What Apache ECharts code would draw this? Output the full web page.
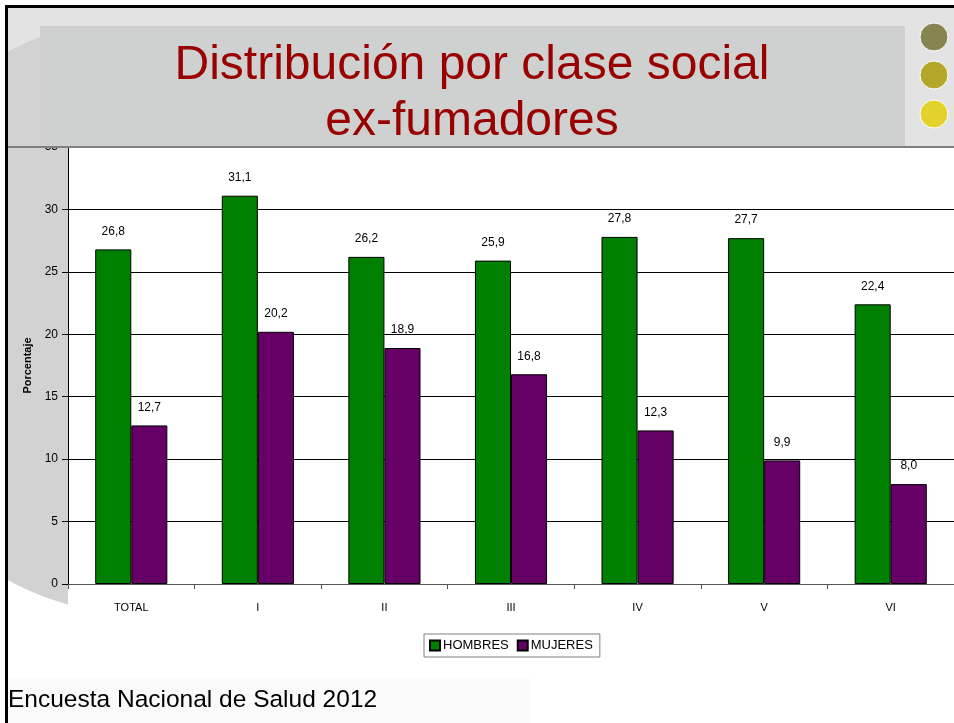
<!DOCTYPE html>
<html>
<head>
<meta charset="utf-8">
<script src="https://cdn.jsdelivr.net/npm/echarts@6/dist/echarts.min.js"></script>
<style>
html,body{margin:0;padding:0;background:#fff;}
#chart{width:954px;height:723px;}
</style>
</head>
<body>
<div id="chart"></div>
<script>
const categories = ['TOTAL', 'I', 'II', 'III', 'IV', 'V', 'VI'];
const hombres = [26.8, 31.1, 26.2, 25.9, 27.8, 27.7, 22.4];
const mujeres = [12.7, 20.2, 18.9, 16.8, 12.3, 9.9, 8.0];
const yTicks = { min: 0, max: 35, interval: 5 };
const titleLines = ['Distribución por clase social', 'ex-fumadores'];
const footerText = 'Encuesta Nacional de Salud 2012';

const SANS = '"Liberation Sans", Arial, sans-serif';

// left decorative strip (part of a large watermark circle, clipped to x<=68)
function leftStrip() {
  const cx = 150, cy = 316, r = 300, x0 = 8, x1 = 68;
  const pts = [];
  const aTop1 = Math.acos((x1 - cx) / r), aTop0 = Math.acos((x0 - cx) / r);
  const n = 30;
  for (let i = 0; i <= n; i++) {
    const a = aTop1 + (aTop0 - aTop1) * i / n;
    pts.push([cx + r * Math.cos(a), cy - r * Math.sin(a)]);
  }
  for (let i = 0; i <= n; i++) {
    const a = aTop0 + (aTop1 - aTop0) * i / n;
    pts.push([cx + r * Math.cos(a), cy + r * Math.sin(a)]);
  }
  return pts;
}

const chart = echarts.init(document.getElementById('chart'), null, { renderer: 'canvas' });
const valFmt = p => p.value.toFixed(1).replace('.', ',');

chart.setOption({
  animation: false,
  backgroundColor: '#ffffff',
  grid: { left: 68, right: -3, top: 147, bottom: 139, containLabel: false },
  legend: {
    data: ['HOMBRES', 'MUJERES'],
    left: 424, top: 634,
    orient: 'horizontal',
    padding: [5, 7, 5, 5],
    itemWidth: 10, itemHeight: 10, itemGap: 8,
    borderColor: '#808080', borderWidth: 1,
    icon: 'rect',
    textStyle: { fontFamily: SANS, fontSize: 13, color: '#000', padding: [0, 0, 0, -2] }
  },
  xAxis: {
    type: 'category',
    data: categories,
    axisLine: { lineStyle: { color: '#555', width: 1 } },
    axisTick: { show: true, length: 5, lineStyle: { color: '#555' } },
    axisLabel: { fontFamily: SANS, fontSize: 11, color: '#000', margin: 18 }
  },
  yAxis: {
    type: 'value',
    min: yTicks.min, max: yTicks.max, interval: yTicks.interval,
    name: 'Porcentaje',
    nameLocation: 'middle', nameGap: 33, nameRotate: 90,
    nameTextStyle: { fontFamily: SANS, fontSize: 11, fontWeight: 'bold', color: '#000' },
    axisLine: { show: true, lineStyle: { color: '#000', width: 1 } },
    axisTick: { show: true, length: 6, lineStyle: { color: '#000' } },
    axisLabel: { fontFamily: SANS, fontSize: 12, color: '#000', margin: 10 },
    splitLine: { show: true, lineStyle: { color: '#000', width: 1 } }
  },
  series: [
    {
      name: 'HOMBRES', type: 'bar', data: hombres,
      barGap: '0%', barCategoryGap: '43%',
      itemStyle: { color: '#008000', borderColor: '#000', borderWidth: 1 },
      label: { show: true, position: 'top', distance: 12, formatter: valFmt,
               fontFamily: SANS, fontSize: 12, color: '#000' }
    },
    {
      name: 'MUJERES', type: 'bar', data: mujeres,
      itemStyle: { color: '#660066', borderColor: '#000', borderWidth: 1 },
      label: { show: true, position: 'top', distance: 12, formatter: valFmt,
               fontFamily: SANS, fontSize: 12, color: '#000' }
    }
  ],
  graphic: [
    { type: 'rect', z: -10, shape: { x: 8, y: 8, width: 946, height: 139 }, style: { fill: '#e3e3e3' } },
    { type: 'polygon', z: -9, shape: { points: leftStrip() }, style: { fill: '#d2d2d2' } },
    { type: 'rect', z: -10, shape: { x: 8, y: 678, width: 522, height: 45 }, style: { fill: '#fafafa' } },
    { type: 'rect', z: 100, shape: { x: 40, y: 26, width: 865, height: 121 }, style: { fill: '#cfd1d0' } },
    { type: 'rect', z: 101, shape: { x: 8, y: 146, width: 946, height: 2 }, style: { fill: '#808080' } },
    { type: 'text', z: 102, x: 472, y: 66,
      style: { text: titleLines[0], textAlign: 'center', textVerticalAlign: 'middle', fill: '#990000', font: '48px ' + SANS } },
    { type: 'text', z: 102, x: 472, y: 122,
      style: { text: titleLines[1], textAlign: 'center', textVerticalAlign: 'middle', fill: '#990000', font: '48px ' + SANS } },
    { type: 'circle', z: 102, shape: { cx: 934, cy: 37, r: 14 }, style: { fill: '#868552', stroke: '#fff', lineWidth: 1 } },
    { type: 'circle', z: 102, shape: { cx: 934, cy: 75, r: 14 }, style: { fill: '#b4a82a', stroke: '#fff', lineWidth: 1 } },
    { type: 'circle', z: 102, shape: { cx: 934, cy: 114, r: 14 }, style: { fill: '#e2d22b', stroke: '#fff', lineWidth: 1 } },
    { type: 'rect', z: 103, shape: { x: 5, y: 5, width: 949, height: 3 }, style: { fill: '#000' } },
    { type: 'rect', z: 103, shape: { x: 5, y: 5, width: 3, height: 718 }, style: { fill: '#000' } },
    { type: 'text', z: 102, x: 8, y: 700,
      style: { text: footerText, textVerticalAlign: 'middle', fill: '#000', font: '24.5px ' + SANS } }
  ]
});
</script>
</body>
</html>
